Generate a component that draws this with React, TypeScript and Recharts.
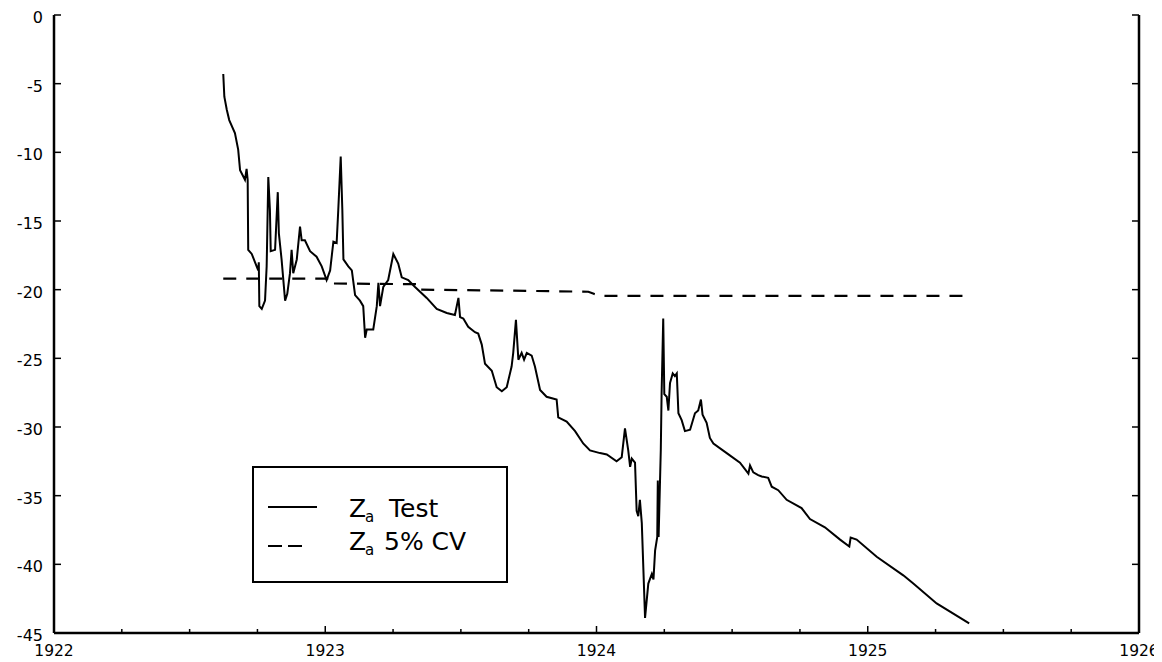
import React from "react";
import { LineChart, Line, XAxis, YAxis, Legend } from "recharts";

// Solid series "Za Test": [year, value]
const testSeries: [number, number][] = [
  [1922.624, -4.3], [1922.628, -5.95], [1922.637, -6.9], [1922.646, -7.65], [1922.667, -8.6],
  [1922.679, -9.8], [1922.686, -11.3], [1922.704, -12.0], [1922.71, -11.2], [1922.714, -12.0],
  [1922.716, -17.1], [1922.729, -17.4], [1922.753, -18.6], [1922.755, -18.0], [1922.757, -21.2],
  [1922.766, -21.4], [1922.778, -20.8], [1922.784, -18.3], [1922.79, -11.8], [1922.796, -14.2],
  [1922.799, -17.2], [1922.815, -17.1], [1922.825, -12.9], [1922.829, -15.9], [1922.839, -17.8],
  [1922.852, -20.8], [1922.86, -20.3], [1922.87, -18.8], [1922.876, -17.1], [1922.882, -18.8],
  [1922.895, -17.8], [1922.907, -15.4], [1922.913, -16.4], [1922.925, -16.4], [1922.944, -17.2],
  [1922.968, -17.6], [1922.987, -18.3], [1923.005, -19.3], [1923.018, -18.6], [1923.03, -16.5],
  [1923.042, -16.6], [1923.048, -14.2], [1923.057, -10.3], [1923.063, -14.2], [1923.067, -17.8],
  [1923.085, -18.3], [1923.098, -18.6], [1923.11, -20.4], [1923.128, -20.8], [1923.14, -21.2],
  [1923.147, -23.5], [1923.153, -22.9], [1923.177, -22.9], [1923.19, -21.2], [1923.196, -19.5],
  [1923.202, -21.2], [1923.214, -19.8], [1923.232, -19.3], [1923.251, -17.4], [1923.269, -18.1],
  [1923.282, -19.1], [1923.306, -19.3], [1923.331, -19.8], [1923.374, -20.6], [1923.411, -21.4],
  [1923.448, -21.7], [1923.478, -21.85], [1923.491, -20.6], [1923.497, -22.0], [1923.509, -22.1],
  [1923.527, -22.7], [1923.552, -23.1], [1923.564, -23.2], [1923.577, -24.0], [1923.589, -25.4],
  [1923.614, -25.9], [1923.632, -27.1], [1923.651, -27.4], [1923.669, -27.1], [1923.687, -25.6],
  [1923.693, -24.6], [1923.703, -22.2], [1923.712, -25.1], [1923.724, -24.6], [1923.733, -25.1],
  [1923.743, -24.6], [1923.761, -24.8], [1923.773, -25.6], [1923.792, -27.3], [1923.816, -27.8],
  [1923.853, -28.0], [1923.859, -29.3], [1923.89, -29.6], [1923.921, -30.3], [1923.951, -31.2],
  [1923.976, -31.7], [1924.013, -31.9], [1924.038, -32.0], [1924.074, -32.5], [1924.093, -32.2],
  [1924.105, -30.1], [1924.117, -31.7], [1924.124, -32.9], [1924.13, -32.3], [1924.142, -32.6],
  [1924.148, -36.1], [1924.154, -36.5], [1924.16, -35.3], [1924.167, -37.0], [1924.179, -43.9],
  [1924.191, -41.4], [1924.204, -40.7], [1924.21, -41.1], [1924.216, -39.0], [1924.224, -38.0],
  [1924.226, -33.9], [1924.229, -38.0], [1924.237, -31.7], [1924.24, -27.6], [1924.246, -22.1],
  [1924.25, -27.6], [1924.259, -27.8], [1924.265, -28.8], [1924.271, -26.8], [1924.281, -26.1],
  [1924.289, -26.3], [1924.296, -26.1], [1924.302, -29.0], [1924.314, -29.5], [1924.326, -30.3],
  [1924.345, -30.2], [1924.363, -29.0], [1924.375, -28.8], [1924.385, -28.0], [1924.391, -29.1],
  [1924.406, -29.7], [1924.418, -30.8], [1924.431, -31.2], [1924.48, -31.9], [1924.529, -32.6],
  [1924.56, -33.4], [1924.566, -32.8], [1924.578, -33.3], [1924.596, -33.5], [1924.609, -33.6],
  [1924.633, -33.7], [1924.646, -34.35], [1924.67, -34.6], [1924.701, -35.3], [1924.756, -35.9],
  [1924.787, -36.7], [1924.842, -37.3], [1924.898, -38.2], [1924.932, -38.7], [1924.937, -38.05],
  [1924.959, -38.2], [1925.033, -39.45], [1925.131, -40.8], [1925.168, -41.4], [1925.254, -42.85],
  [1925.374, -44.3],
];

// Dashed series "Za 5% CV": [year, value]
const cvSeries: [number, number][] = [
  [1922.624, -19.2], [1923.028, -19.2], [1923.03, -19.55], [1923.335, -19.6], [1923.338, -20.0],
  [1923.6, -20.05], [1923.97, -20.15], [1923.99, -20.3], [1924.01, -20.45], [1925.377, -20.45],
];

const xLabelTicks = [1922, 1923, 1924, 1925, 1926];
const xMinorTicks = [
  1922, 1922.25, 1922.5, 1922.75, 1923, 1923.25, 1923.5, 1923.75, 1924, 1924.25,
  1924.5, 1924.75, 1925, 1925.25, 1925.5, 1925.75, 1926,
];
const yTicks = [-45, -40, -35, -30, -25, -20, -15, -10, -5, 0];

const legendLabels = { test: "Test", cv: "5% CV", symbol: "Z", sub: "a" };

const testData = testSeries.map(([t, v]) => ({ t, v }));
const cvData = cvSeries.map(([t, v]) => ({ t, v }));

const FONT = "DejaVu Sans";
const X_MARGIN = 17;
const Y_MARGIN = 11;

const BottomTick = (props: any) => {
  const { x, y, payload } = props;
  const axisY = y - X_MARGIN;
  const isMajor = xLabelTicks.includes(payload.value);
  return (
    <g>
      <line x1={x} x2={x} y1={axisY} y2={axisY - (isMajor ? 7 : 4)} stroke="#000" strokeWidth={1.5} />
      {isMajor && (
        <text x={x} y={y} dy="0.36em" textAnchor="middle" fontFamily={FONT} fontSize={15.5} fill="#000">
          {payload.value}
        </text>
      )}
    </g>
  );
};

const TopTick = (props: any) => {
  const { x, y, payload } = props;
  const axisY = y + X_MARGIN;
  const isMajor = xLabelTicks.includes(payload.value);
  return (
    <line x1={x} x2={x} y1={axisY} y2={axisY + (isMajor ? 7 : 4)} stroke="#000" strokeWidth={1.5} />
  );
};

const LeftTick = (props: any) => {
  const { x, y, payload } = props;
  const axisX = x + Y_MARGIN;
  return (
    <g>
      <line x1={axisX} x2={axisX + 7} y1={y} y2={y} stroke="#000" strokeWidth={1.5} />
      <text x={x} y={y} dy={8} textAnchor="end" fontFamily={FONT} fontSize={16} fill="#000">
        {payload.value}
      </text>
    </g>
  );
};

const RightTick = (props: any) => {
  const { x, y } = props;
  const axisX = x - Y_MARGIN;
  return <line x1={axisX} x2={axisX - 7} y1={y} y2={y} stroke="#000" strokeWidth={1.5} />;
};

const LegendBox = () => (
  <svg width={256} height={117} style={{ display: "block" }}>
    <rect x={1} y={1} width={254} height={115} fill="#fff" stroke="#000" strokeWidth={2} />
    <line x1={16} x2={65} y1={41} y2={41} stroke="#000" strokeWidth={2} />
    <text fontFamily={FONT} fontSize={25} fill="#000">
      <tspan x={97} y={51}>{legendLabels.symbol}</tspan>
      <tspan x={113} y={56} fontSize={15}>{legendLabels.sub}</tspan>
      <tspan x={137} y={51}>{legendLabels.test}</tspan>
    </text>
    <line x1={16} x2={55} y1={80} y2={80} stroke="#000" strokeWidth={2} strokeDasharray="14 6" />
    <text fontFamily={FONT} fontSize={25} fill="#000">
      <tspan x={97} y={84}>{legendLabels.symbol}</tspan>
      <tspan x={113} y={89} fontSize={15}>{legendLabels.sub}</tspan>
      <tspan x={132} y={84}>{legendLabels.cv}</tspan>
    </text>
  </svg>
);

export default function App() {
  return (
    <LineChart
      width={1154}
      height={654}
      margin={{ top: 7, right: 8, bottom: 0, left: 6 }}
      style={{ fontFamily: FONT }}
    >
      <XAxis
        xAxisId="bottom"
        type="number"
        dataKey="t"
        domain={[1922, 1926]}
        ticks={xMinorTicks}
        interval={0}
        allowDataOverflow
        height={29}
        tickSize={0}
        tickMargin={X_MARGIN}
        tickLine={false}
        axisLine={{ stroke: "#000", strokeWidth: 2.5 }}
        tick={<BottomTick />}
      />
      <XAxis
        xAxisId="top"
        orientation="top"
        type="number"
        dataKey="t"
        domain={[1922, 1926]}
        ticks={xMinorTicks}
        interval={0}
        allowDataOverflow
        height={0}
        tickSize={0}
        tickMargin={X_MARGIN}
        tickLine={false}
        axisLine={{ stroke: "#000", strokeWidth: 2.5 }}
        tick={<TopTick />}
      />
      <YAxis
        yAxisId="left"
        type="number"
        domain={[-45, 0]}
        ticks={yTicks}
        interval={0}
        allowDataOverflow
        width={40}
        tickSize={0}
        tickMargin={Y_MARGIN}
        tickLine={false}
        axisLine={{ stroke: "#000", strokeWidth: 2.5 }}
        tick={<LeftTick />}
      />
      <YAxis
        yAxisId="right"
        orientation="right"
        type="number"
        domain={[-45, 0]}
        ticks={yTicks}
        interval={0}
        allowDataOverflow
        width={15}
        tickSize={0}
        tickMargin={Y_MARGIN}
        tickLine={false}
        axisLine={{ stroke: "#000", strokeWidth: 2.5 }}
        tick={<RightTick />}
      />
      <Legend
        layout="vertical"
        align="center"
        verticalAlign="middle"
        wrapperStyle={{ position: "absolute", left: 244, top: 458, width: 256, height: 117 }}
        content={() => <LegendBox />}
      />
      <Line
        xAxisId="bottom"
        yAxisId="left"
        data={cvData}
        dataKey="v"
        name="Za 5% CV"
        type="linear"
        stroke="#000"
        strokeWidth={2.2}
        strokeDasharray="13 10"
        dot={false}
        activeDot={false}
        isAnimationActive={false}
      />
      <Line
        xAxisId="bottom"
        yAxisId="left"
        data={testData}
        dataKey="v"
        name="Za Test"
        type="linear"
        stroke="#000"
        strokeWidth={2}
        dot={false}
        activeDot={false}
        isAnimationActive={false}
      />
    </LineChart>
  );
}
